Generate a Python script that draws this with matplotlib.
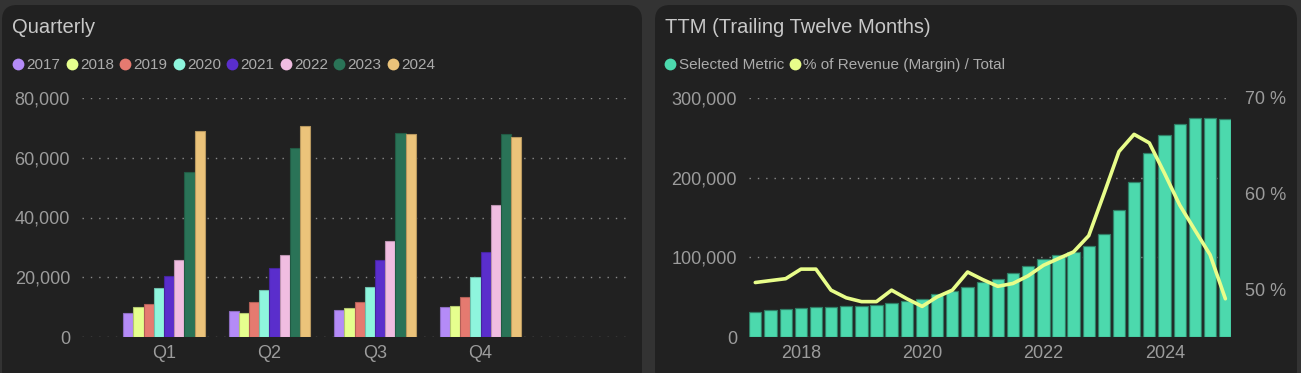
import numpy as np
import pandas as pd
import matplotlib
matplotlib.use("Agg")
import matplotlib.pyplot as plt
import matplotlib.dates as mdates
from matplotlib.patches import FancyBboxPatch
from matplotlib.lines import Line2D
from matplotlib.ticker import FuncFormatter

# quarterly values per year (Q1..Q4)
quarters = ["Q1", "Q2", "Q3", "Q4"]
years = ["2017", "2018", "2019", "2020", "2021", "2022", "2023", "2024"]
v2017 = [8200, 8650, 9000, 9900]
v2018 = [10200, 8200, 9550, 10300]
v2019 = [11000, 11700, 11550, 13350]
v2020 = [16400, 15600, 16850, 20000]
v2021 = [20400, 23000, 25900, 28400]
v2022 = [25900, 27400, 32100, 44300]
v2023 = [55300, 63200, 68400, 67900]
v2024 = [69100, 70700, 67800, 66900]
year_colors = ["#b48bf7", "#e6ff8e", "#e57a70", "#8ef5dd",
               "#5a2ecc", "#f0bde1", "#2a7357", "#ebc37a"]

# trailing twelve months
ttm_dates = pd.date_range("2017-03-31", "2024-12-31", freq="QE")
ttm_values = [31800, 33500, 34800, 36000, 37700, 37700, 38500, 38900,
              39800, 42700, 45200, 47700, 53600, 57300, 62800, 69000,
              72800, 80300, 89500, 97500, 102900, 107100, 113800, 129300,
              159000, 194600, 230600, 253900, 267800, 275300, 274500, 273600]
margin_pct = [50.7, 50.9, 51.1, 52.1, 52.1, 49.9, 49.1, 48.7,
              48.7, 49.9, 49.0, 48.2, 49.2, 49.9, 51.8, 51.0,
              50.3, 50.6, 51.4, 52.5, 53.2, 53.9, 55.6, 60.0,
              64.4, 66.2, 65.3, 62.1, 58.8, 56.2, 53.6, 49.0]

BG = "#333333"
CARD = "#212121"
TICK = "#9c9c9c"
LEG = "#ababab"
TITLE = "#c8c8c8"
FONT = ["Liberation Sans", "DejaVu Sans"]

W, H = 1301, 373
fig = plt.figure(figsize=(W / 100, H / 100), dpi=100, facecolor=BG)

# card backgrounds (pixel coords)
for x0, x1 in [(2, 642), (655, 1297)]:
    card = FancyBboxPatch((x0, -12), x1 - x0, (H - 5) + 12,
                          boxstyle="round,pad=0,rounding_size=15",
                          transform=None, facecolor=CARD, edgecolor="none",
                          zorder=0)
    fig.add_artist(card)

fig.text(12 / W, (H - 33) / H, "Quarterly", fontsize=14.5, color=TITLE,
         family=FONT, va="baseline")
fig.text(665 / W, (H - 33) / H, "TTM (Trailing Twelve Months)", fontsize=14.5,
         color=TITLE, family=FONT, va="baseline")


def style_axis(ax):
    ax.set_facecolor("none")
    for s in ax.spines.values():
        s.set_visible(False)
    ax.tick_params(length=0, colors=TICK, labelsize=13)
    for lab in ax.get_xticklabels() + ax.get_yticklabels():
        lab.set_family(FONT)


# ---- Quarterly grouped bars
ax1 = fig.add_axes([82 / W, 36 / H, 546 / W, 239 / H])
series = [v2017, v2018, v2019, v2020, v2021, v2022, v2023, v2024]
x = np.arange(len(quarters))
bw = 0.0965
for i, (vals, col) in enumerate(zip(series, year_colors)):
    edge = tuple(c * 0.78 for c in matplotlib.colors.to_rgb(col))
    ax1.bar(x + (i - 3.5) * bw, vals, width=bw, color=col, edgecolor=edge,
            linewidth=0.8, zorder=3)
ax1.set_ylim(0, 80000)
ax1.set_yticks([0, 20000, 40000, 60000, 80000])
ax1.yaxis.set_major_formatter(FuncFormatter(lambda v, p: f"{v:,.0f}"))
ax1.set_xticks(x)
ax1.set_xticklabels(quarters)
ax1.set_xlim(-0.777, 4.398)
ax1.yaxis.grid(True, color="#8a8a8a", linestyle=(0, (1, 5)), linewidth=1)
ax1.set_axisbelow(True)
style_axis(ax1)
ax1.tick_params(axis="y", pad=8.6)
ax1.tick_params(axis="x", pad=6)

handles = [Line2D([], [], marker="o", ls="", markersize=8.5,
                  markerfacecolor=c, markeredgecolor="none") for c in year_colors]
fig.legend(handles, years, loc="center left", bbox_to_anchor=(12 / W, (H - 65) / H),
           ncol=8, frameon=False, handlelength=0.8, handletextpad=0.15,
           columnspacing=0.33, borderaxespad=0, borderpad=0,
           prop={"family": FONT, "size": 11}, labelcolor=LEG)

# ---- TTM bars + margin line
ax2 = fig.add_axes([749 / W, 36 / H, 482 / W, 239 / H])
ax2.bar(ttm_dates, ttm_values, width=74, color="#4cd9ad", edgecolor="#2f7f66",
        linewidth=0.9, zorder=3)
ax2.set_ylim(0, 300000)
ax2.set_yticks([0, 100000, 200000, 300000])
ax2.yaxis.set_major_formatter(FuncFormatter(lambda v, p: f"{v:,.0f}"))
ax2.set_xlim(pd.Timestamp("2017-02-21"), pd.Timestamp("2025-02-03"))
ax2.xaxis.set_major_locator(mdates.YearLocator(2))
ax2.xaxis.set_major_formatter(mdates.DateFormatter("%Y"))
ax2.yaxis.grid(True, color="#8a8a8a", linestyle=(0, (1, 5)), linewidth=1)
ax2.set_axisbelow(True)
style_axis(ax2)
ax2.tick_params(axis="y", pad=8.6)
ax2.tick_params(axis="x", pad=6)

ax3 = ax2.twinx()
ax3.plot(ttm_dates, margin_pct, color="#e8fd8a", linewidth=2.6,
         solid_joinstyle="round", solid_capstyle="round", zorder=4)
ax3.set_ylim(45, 70)
ax3.set_yticks([50, 60, 70])
ax3.yaxis.set_major_formatter(FuncFormatter(lambda v, p: f"{v:.0f} %"))
style_axis(ax3)
ax3.tick_params(axis="y", pad=10)

h2 = [Line2D([], [], marker="o", ls="", markersize=8.5, markerfacecolor=c,
             markeredgecolor="none") for c in ["#4cd9ad", "#e8fd8a"]]
fig.legend(h2, ["Selected Metric", "% of Revenue (Margin) / Total"],
           loc="center left", bbox_to_anchor=(664 / W, (H - 65) / H),
           ncol=2, frameon=False, handlelength=0.8, handletextpad=0.15,
           columnspacing=0.33, borderaxespad=0, borderpad=0,
           prop={"family": FONT, "size": 11}, labelcolor=LEG)

fig.savefig("out.png", dpi=100, facecolor=BG)
